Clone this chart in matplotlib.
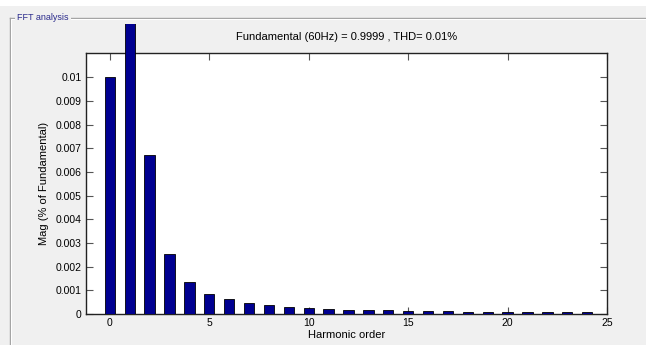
import matplotlib
matplotlib.use("Agg")
import matplotlib.pyplot as plt
from matplotlib.patches import Rectangle
from matplotlib.transforms import Bbox, TransformedBbox
import numpy as np

plt.rcParams["font.family"] = ["Liberation Sans Narrow", "Liberation Sans", "DejaVu Sans"]

# harmonic spectrum, in % of fundamental (order 1 is the fundamental itself)
orders = np.arange(0, 25)
mag = [0.0100, 100.0, 0.0067, 0.00253, 0.00136, 0.00085, 0.00062, 0.00047,
       0.00037, 0.00028, 0.00024, 0.00021, 0.00018, 0.00016, 0.00016,
       0.00011, 0.00011, 0.00011, 0.00007, 0.00007, 0.00007, 0.00007,
       0.00007, 0.00007, 0.00007]
yticks = np.arange(0, 0.0101, 0.001)
ytick_labels = ["0"] + ["%g" % v for v in yticks[1:]]
xticks = [0, 5, 10, 15, 20, 25]
title = "Fundamental (60Hz) = 0.9999 , THD= 0.01%"

W, H = 646, 345
fig = plt.figure(figsize=(W / 100, H / 100), dpi=100)
fig.patch.set_facecolor("#f0f0f0")

# background layer in pixel coordinates: panel, white strip on top, group box
bg = fig.add_axes([0, 0, 1, 1], zorder=-10)
bg.set_xlim(0, W)
bg.set_ylim(H, 0)
bg.set_xticks([])
bg.set_yticks([])
for s in bg.spines.values():
    s.set_visible(False)
bg.set_facecolor("#f0f0f0")
bg.add_patch(Rectangle((0, 0), W, 6, facecolor="white", edgecolor="none"))
bg.plot([10, W], [18, 18], color="#a0a0a0", lw=1)
bg.plot([11, W], [19, 19], color="white", lw=0.8)
bg.plot([10, 10], [18, H], color="#a0a0a0", lw=1)
bg.plot([11, 11], [19, H], color="white", lw=0.8)
bg.text(17, 18, "FFT analysis", fontsize=6.5, color="#2b2b8c", va="center", ha="left",
        bbox=dict(facecolor="#f0f0f0", edgecolor="none", pad=1.5))

ax = fig.add_axes([86 / W, 1 - 314 / H, (607 - 86) / W, (314 - 53) / H])
ax.set_facecolor("white")
bars = ax.bar(orders, mag, width=0.52, color="#000090", edgecolor="black", linewidth=0.6, zorder=3)
# the fundamental bar runs past the top of the axes
clip = TransformedBbox(Bbox.from_extents(0, 0, 1, 1.112), ax.transAxes)
bars[1].set_clip_box(clip)

ax.set_xlim(-1.2, 25)
ax.set_ylim(0, 0.01103)
ax.set_xticks(xticks)
ax.set_yticks(yticks)
ax.set_yticklabels(ytick_labels)
ax.tick_params(direction="in", length=5, width=0.8, labelsize=7.5, color="#555555",
               top=True, right=True, pad=3)
for s in ax.spines.values():
    s.set_linewidth(1)
    s.set_color("#222222")

ax.set_title(title, fontsize=8, pad=9)
ax.set_xlabel("Harmonic order", fontsize=8, labelpad=1)
ax.set_ylabel("Mag (% of Fundamental)", fontsize=8, labelpad=5)

fig.savefig("out.png", dpi=100)
